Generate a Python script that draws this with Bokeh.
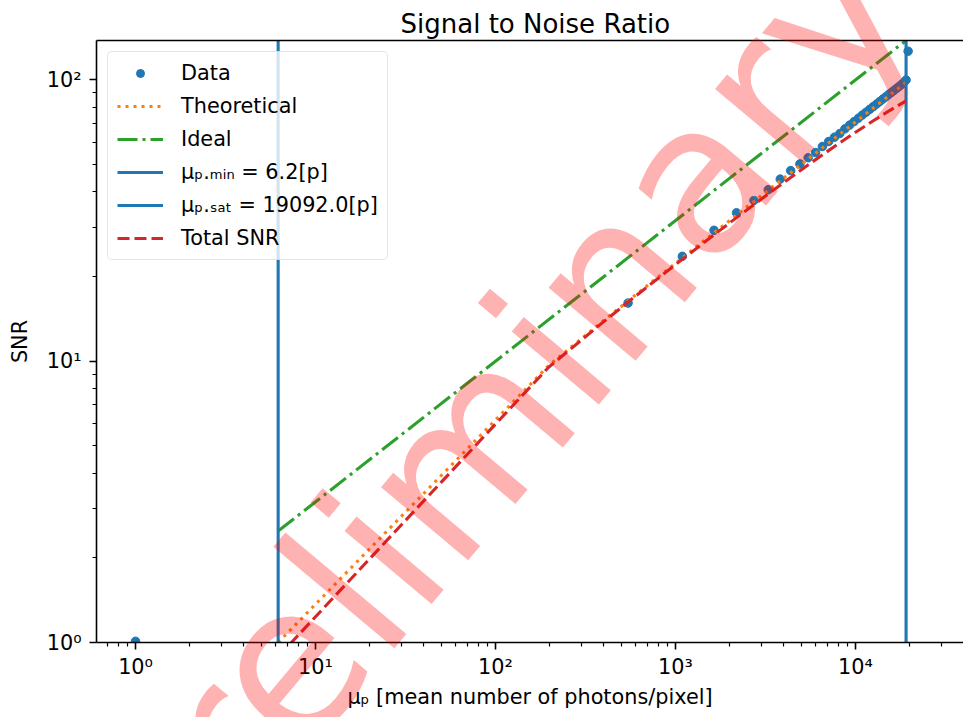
from bokeh.plotting import figure
from bokeh.models import Range1d, FixedTicker, LogAxis, Legend, LegendItem, Title
from bokeh.core.properties import value
from bokeh.embed import file_html
from bokeh.resources import INLINE

# ---------------- data ----------------
data_x = [1, 545, 1091, 1636, 2182, 2727, 3273, 3818, 4364, 4909, 5455, 6000,
          6546, 7092, 7637, 8183, 8728, 9274, 9819, 10365, 10910, 11456, 12001,
          12547, 13092, 13638, 14183, 14729, 15274, 15820, 16366, 16911, 17457,
          18002, 18548, 19092, 19600]
data_y = [1.01, 16.1, 23.6, 29.2, 33.7, 37.3, 40.7, 44.4, 47.6, 50.3, 52.9, 55.2,
          58.0, 60.4, 62.6, 64.5, 67.0, 69.1, 71.1, 73.1, 75.0, 76.8, 78.6,
          80.4, 82.1, 83.8, 85.5, 87.1, 88.7, 90.3, 91.8, 93.3, 94.8,
          96.3, 97.9, 100.0, 126.5]

theo_x = [6.2, 198, 390, 583, 776, 969, 1355, 1741, 2320, 3093, 4058, 5603,
          7533, 9850, 12552, 15641, 19092]
theo_y = [1.0, 9.67, 13.79, 16.95, 19.61, 21.95, 26.01, 29.51, 34.10, 39.40,
          45.15, 53.08, 61.56, 70.41, 79.50, 88.75, 98.06]

ideal_x = [6.2, 19092]
ideal_y = [2.49, 138.2]

total_x = [6.2, 198, 390, 583, 776, 969, 1355, 1741, 2320, 3093, 4058, 5603,
           7533, 9850, 12552, 15641, 19092]
total_y = [0.89, 9.54, 13.66, 16.79, 19.41, 21.71, 25.64, 29.01, 33.36, 38.29,
           43.52, 50.51, 57.66, 64.75, 71.60, 78.15, 84.29]

mu_min = 6.2
mu_sat = 19092.0

x_lim = [0.607, 39800]
y_lim = [1.0, 138.1]

x_ticks = [1, 10, 100, 1000, 10000]
x_tick_labels = ["10⁰", "10¹", "10²", "10³", "10⁴"]
x_minor = [0.7, 0.8, 0.9, 2, 3, 4, 5, 6, 7, 8, 9, 20, 30, 40, 50, 60, 70, 80, 90,
           200, 300, 400, 500, 600, 700, 800, 900, 2000, 3000, 4000, 5000, 6000,
           7000, 8000, 9000, 20000, 30000]
y_ticks = [1, 10, 100]
y_tick_labels = ["10⁰", "10¹", "10²"]
y_minor = [2, 3, 4, 5, 6, 7, 8, 9, 20, 30, 40, 50, 60, 70, 80, 90]

legend_labels = ["Data", "Theoretical", "Ideal", "μₚ.ₘᵢₙ = 6.2[p]",
                 "μₚ.ₛₐₜ = 19092.0[p]", "Total SNR"]

# watermark anchor (data coordinates)
wm_x = [95.0]
wm_y = [6.16]
wm_text = ["Preliminary"]

FONT = "DejaVu Sans"
FS = "20.8px"

p = figure(width=963, height=717, x_axis_type="log", y_axis_type="log",
           x_range=Range1d(*x_lim), y_range=Range1d(*y_lim),
           output_backend="svg", toolbar_location=None,
           min_border_left=96, min_border_right=0, min_border_top=40,
           min_border_bottom=75)
p.outline_line_color = None
p.xgrid.visible = False
p.ygrid.visible = False
p.background_fill_color = "white"


def style_axis(ax):
    ax.axis_line_width = 1.6
    ax.axis_line_color = "black"
    ax.major_tick_line_width = 1.6
    ax.minor_tick_line_width = 1.2
    ax.major_tick_out = 7
    ax.major_tick_in = 0
    ax.minor_tick_out = 4
    ax.minor_tick_in = 0
    ax.major_label_text_font = FONT
    ax.major_label_text_font_size = FS
    ax.major_label_text_color = "black"
    ax.axis_label_text_font = FONT
    ax.axis_label_text_font_size = FS
    ax.axis_label_text_font_style = "normal"
    ax.axis_label_text_color = "black"


xa = p.xaxis[0]
ya = p.yaxis[0]
style_axis(xa)
style_axis(ya)
xa.ticker = FixedTicker(ticks=x_ticks, minor_ticks=x_minor)
ya.ticker = FixedTicker(ticks=y_ticks, minor_ticks=y_minor)
xa.major_label_overrides = {t: l for t, l in zip(x_ticks, x_tick_labels)}
ya.major_label_overrides = {t: l for t, l in zip(y_ticks, y_tick_labels)}
xa.major_label_standoff = 5
ya.major_label_standoff = 8
xa.axis_label = "μₚ [mean number of photons/pixel]"
ya.axis_label = "SNR"
xa.axis_label_standoff = 3
ya.axis_label_standoff = 12

top = LogAxis(ticker=FixedTicker(ticks=[], minor_ticks=[]))
top.axis_line_width = 1.6
top.axis_line_color = "black"
top.major_tick_out = 0
top.major_tick_in = 0
top.minor_tick_out = 0
top.minor_tick_in = 0
top.major_label_text_font_size = "0px"
p.add_layout(top, "above")

p.add_layout(Title(text="Signal to Noise Ratio", align="left", offset=304,
                   vertical_align="top",
                   text_font=FONT, text_font_size="26px",
                   text_font_style="normal", text_color="black", standoff=0),
             "above")

r_data = p.scatter(data_x, data_y, size=8.5, color="#1f77b4")
r_theo = p.line(theo_x, theo_y, color="#ff7f0e", line_width=3.1, line_dash="3 5")
r_ideal = p.line(ideal_x, ideal_y, color="#2ca02c", line_width=3.1,
                 line_dash="20 5 3 5")
r_min = p.line([mu_min, mu_min], y_lim, color="#1f77b4", line_width=3.1)
r_sat = p.line([mu_sat, mu_sat], y_lim, color="#1f77b4", line_width=3.1)
r_tot = p.line(total_x, total_y, color="#d62728", line_width=3.1, line_dash="12 5")

# watermark drawn as a text glyph on the overlay level
p.text(x=wm_x, y=wm_y, text=wm_text, angle=50, angle_units="deg",
       text_font=value(FONT), text_font_size=value("208px"), text_color="red",
       text_alpha=0.3, text_align="center", text_baseline="middle",
       level="overlay")

renderers = [r_data, r_theo, r_ideal, r_min, r_sat, r_tot]
legend = Legend(items=[LegendItem(label=l, renderers=[r])
                       for l, r in zip(legend_labels, renderers)],
                location="top_left", margin=11, padding=9, spacing=9,
                glyph_width=46, glyph_height=20, label_standoff=18,
                label_text_font=FONT, label_text_font_size=FS,
                label_text_color="black",
                border_line_color="#cccccc", border_line_width=1.5,
                background_fill_color="white", background_fill_alpha=0.8)
if "border_radius" in Legend.properties():
    legend.border_radius = 5
p.add_layout(legend)

open("out.html", "w").write(file_html(p, INLINE))
